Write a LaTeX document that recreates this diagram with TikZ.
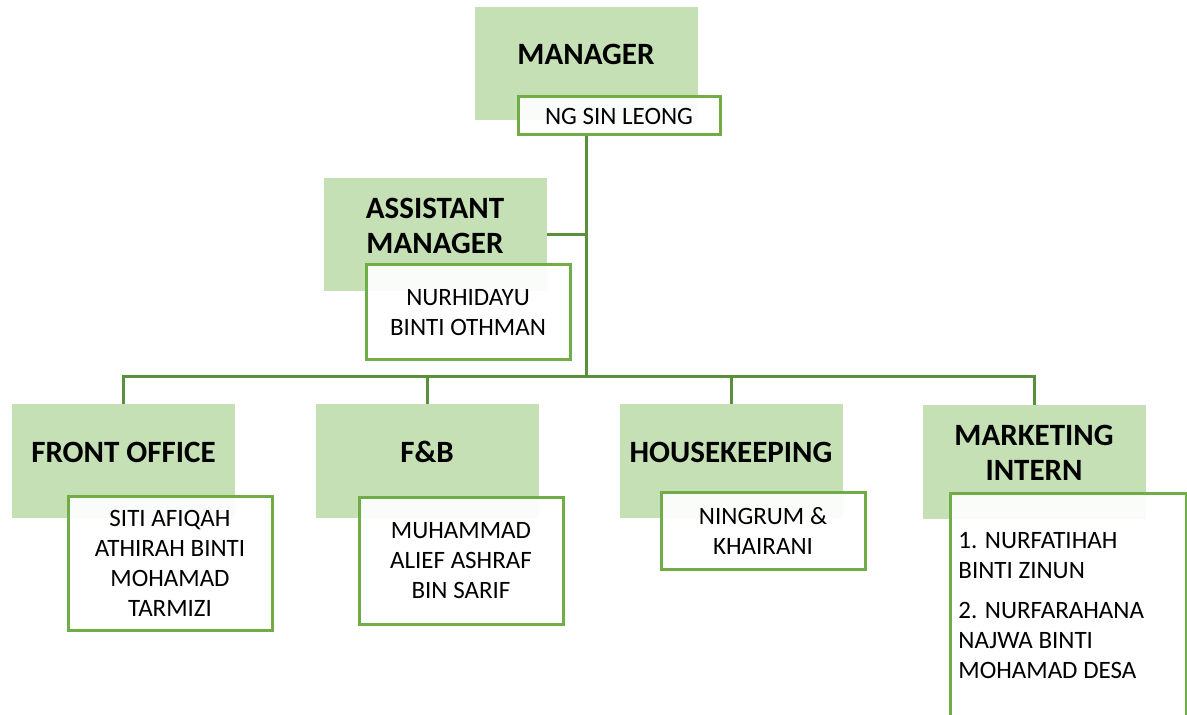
\documentclass[tikz,border=0pt]{standalone}
\usepackage{fontspec}
\setmainfont{Carlito}
\usetikzlibrary{
    positioning,
    calc,
}
\definecolor{boxgreen}{HTML}{C5E0B4}
\definecolor{edgegreen}{HTML}{70AD47}
\definecolor{linegreen}{HTML}{5A8F3C}

\begin{document}
\begin{tikzpicture}[
    x=0.5pt, y=-0.5pt,
    headbox/.style={fill=boxgreen, minimum width=111.5pt, minimum height=56.5pt, inner sep=0pt},
    headtext/.style={font=\fontsize{15.5}{17.5}\selectfont\bfseries, align=center, inner sep=0pt},
    person/.style={draw=edgegreen, line width=1.5pt, fill=white, fill opacity=0.93, text opacity=1,
        minimum width=102pt, inner sep=0pt, align=center, font=\fontsize{12.5}{15}\selectfont},
    link/.style={draw=linegreen, line width=1.5pt},
]
\useasboundingbox (0,0) rectangle (1187,715);

% top level
\node[headbox] (mgr) at (586,63.5) {};
\node[headtext] (mgrtext) at ([yshift=-24pt]mgr.north) {MANAGER};
\node[person, minimum width=101pt, minimum height=19pt] (mgrname) at (619,116) {NG SIN LEONG};

\node[headbox] (am) at (435,234.5) {};
\node[headtext] (amtext) at ([yshift=-24pt]am.north) {ASSISTANT\\MANAGER};

% departments
\node[headbox] (fo) at (123.5,461) {};
\node[headtext] (fotext) at ([yshift=-24pt]fo.north) {FRONT OFFICE};

\node[headbox] (fb) at (427,461) {};
\node[headtext] (fbtext) at ([yshift=-24pt]fb.north) {F\&B};

\node[headbox] (hk) at (731,461) {};
\node[headtext] (hktext) at ([yshift=-24pt]hk.north) {HOUSEKEEPING};

\node[headbox] (mk) at (1034,462) {};
\node[headtext] (mktext) at ([yshift=-24pt]mk.north) {MARKETING\\INTERN};

% connectors
\coordinate (bus) at (586,377);
\draw[link] (mgr |- mgrname.south) -- (bus);
\draw[link] (am.east) -- (am.east -| bus);
\draw[link] (bus) -| (fo);
\draw[link] (bus) -| (fb);
\draw[link] (bus) -| (hk);
\draw[link] (bus) -| (mk);

% names
\node[person, minimum height=47.5pt] (amname) at (468,312.5) {NURHIDAYU\\BINTI OTHMAN};
\node[person, minimum height=67pt] (foname) at (170,563) {SITI AFIQAH\\ATHIRAH BINTI\\MOHAMAD\\TARMIZI};
\node[person, minimum height=63.5pt] (fbname) at (461,560.5) {MUHAMMAD\\ALIEF ASHRAF\\BIN SARIF};
\node[person, minimum height=38.5pt] (hkname) at (763,530.5) {NINGRUM \&\\KHAIRANI};
\node[person, minimum width=118pt, minimum height=121pt] (mkname) at (1068,614) {};
\node[anchor=north west, align=left, inner sep=0pt, font=\fontsize{12.5}{15}\selectfont] (mklist) at (958,532)
    {1. NURFATIHAH\\BINTI ZINUN\\[5pt]2. NURFARAHANA\\NAJWA BINTI\\MOHAMAD DESA};

\end{tikzpicture}
\end{document}
